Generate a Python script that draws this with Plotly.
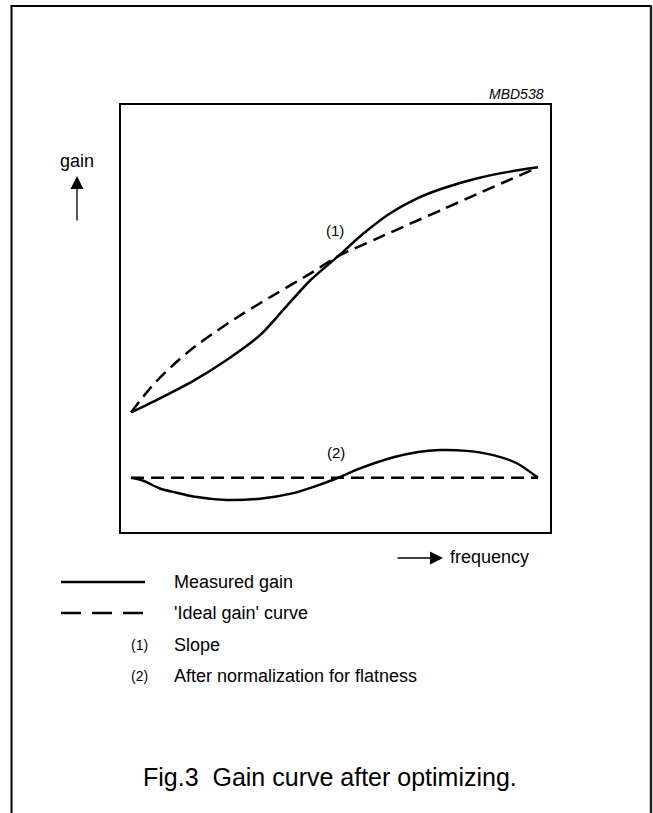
import plotly.graph_objects as go

W, H = 653, 813

# ---- data (normalised frequency 0..100, gain in arbitrary units 0..100) ----
slope_freq = [0, 7.1, 15.3, 23.5, 31.7, 37.4, 44.0, 50.9, 57.1, 63.6, 70.2, 76.7, 84.9, 93.1, 100]
slope_measured = [28.0, 31.3, 35.4, 40.3, 46.1, 52.0, 58.9, 64.6, 69.9, 74.6, 78.1, 80.5, 82.8, 84.4, 85.4]

ideal_freq = [0, 5.0, 10.0, 15.0, 20.0, 27.6, 35.8, 44.0, 50.9, 60.4, 68.6, 76.7, 84.9, 93.1, 100]
ideal_gain = [28.0, 34.0, 38.8, 42.9, 46.4, 51.2, 55.9, 60.5, 64.6, 68.7, 72.2, 75.6, 79.1, 82.5, 85.4]

flat_freq = [0, 3.0, 7.1, 11.2, 15.3, 23.5, 31.7, 39.9, 45.6, 50.9, 56.3, 64.5, 70.2, 75.9, 82.5, 89.0, 94.8, 100]
flat_measured = [12.7, 12.0, 10.2, 9.2, 8.3, 7.5, 7.8, 9.1, 10.8, 12.7, 14.9, 17.5, 18.7, 19.2, 19.0, 18.0, 16.1, 12.7]

flat_ideal_freq = [0, 100]
flat_ideal_gain = [12.7, 12.7]

label_points = {"(1)": (50.1, 70.7), "(2)": (50.4, 18.7)}

legend_items = ["Measured gain", "'Ideal gain' curve"]
notes = [("(1)", "Slope"), ("(2)", "After normalization for flatness")]
caption = "Fig.3  Gain curve after optimizing."
code_label = "MBD538"

FONT = "Liberation Sans, Arial, Helvetica, sans-serif"
LW = 2.5
DASH = "13px,7px"


def px(x):
    return x / W


def py(y):
    return 1 - y / H


fig = go.Figure()
fig.add_trace(go.Scatter(x=slope_freq, y=slope_measured, mode="lines",
                         line=dict(color="black", width=LW, shape="spline", smoothing=0.8)))
fig.add_trace(go.Scatter(x=ideal_freq, y=ideal_gain, mode="lines",
                         line=dict(color="black", width=LW, dash=DASH, shape="spline", smoothing=0.8)))
fig.add_trace(go.Scatter(x=flat_ideal_freq, y=flat_ideal_gain, mode="lines",
                         line=dict(color="black", width=LW, dash=DASH)))
fig.add_trace(go.Scatter(x=flat_freq, y=flat_measured, mode="lines",
                         line=dict(color="black", width=LW, shape="spline", smoothing=0.8)))

annotations = []
for lab, (fx, gy) in label_points.items():
    annotations.append(dict(x=fx, y=gy, xref="x", yref="y", text=lab, showarrow=False,
                            font=dict(size=15, color="black", family=FONT)))

def txt(text, x, y, size, xanchor="left", italic=False):
    annotations.append(dict(x=px(x), y=py(y), xref="paper", yref="paper", text=text,
                            showarrow=False, xanchor=xanchor, yanchor="middle",
                            font=dict(size=size, color="black", family=FONT,
                                      style="italic" if italic else "normal")))

txt(code_label, 546, 94, 14, xanchor="right", italic=True)
txt("gain", 77, 161, 18, xanchor="center")
txt("frequency", 448, 557, 18)
txt(legend_items[0], 172, 582, 18)
txt(legend_items[1], 172, 613, 18)
for i, (n, t) in enumerate(notes):
    yy = 645 + i * 31
    txt(n, 139, yy, 14, xanchor="center")
    txt(t, 172, yy, 18)
txt(caption, 330, 777, 25, xanchor="center")

# arrows
annotations.append(dict(x=px(77), y=py(176), xref="paper", yref="paper", ax=0, ay=46,
                        showarrow=True, arrowhead=2,
                        arrowsize=2.0, arrowwidth=1.3, arrowcolor="black", text=""))
annotations.append(dict(x=px(443), y=py(558), xref="paper", yref="paper", ax=-47, ay=0,
                        showarrow=True, arrowhead=2,
                        arrowsize=2.0, arrowwidth=1.3, arrowcolor="black", text=""))

shapes = [
    # outer frame (open at the bottom)
    dict(type="line", xref="paper", yref="paper", x0=px(11.5), x1=px(11.5), y0=py(5.5), y1=py(815),
         line=dict(color="black", width=2)),
    dict(type="line", xref="paper", yref="paper", x0=px(10.5), x1=px(651.5), y0=py(6), y1=py(6),
         line=dict(color="black", width=2)),
    dict(type="line", xref="paper", yref="paper", x0=px(651), x1=px(651), y0=py(5.5), y1=py(815),
         line=dict(color="#222", width=2.5)),
    # legend samples
    dict(type="line", xref="paper", yref="paper", x0=px(61), x1=px(145), y0=py(582), y1=py(582),
         line=dict(color="black", width=LW)),
    dict(type="line", xref="paper", yref="paper", x0=px(61), x1=px(145), y0=py(613), y1=py(613),
         line=dict(color="black", width=LW, dash="20px,11px")),
]

fig.update_layout(
    width=W, height=H, margin=dict(l=0, r=0, t=0, b=0),
    paper_bgcolor="white", plot_bgcolor="white", showlegend=False,
    annotations=annotations, shapes=shapes,
    xaxis=dict(domain=[px(121), px(550)], range=[-2.46, 102.95], showgrid=False, zeroline=False,
               showticklabels=False, ticks="", showline=True, mirror=True, linecolor="black",
               linewidth=1.5, fixedrange=True),
    yaxis=dict(domain=[py(532), py(105)], range=[0, 100], showgrid=False, zeroline=False,
               showticklabels=False, ticks="", showline=True, mirror=True, linecolor="black",
               linewidth=1.5, fixedrange=True),
)

fig.write_html("out.html", config={"displayModeBar": False},
               post_script="document.body.style.margin='0';document.body.style.overflow='hidden';")
